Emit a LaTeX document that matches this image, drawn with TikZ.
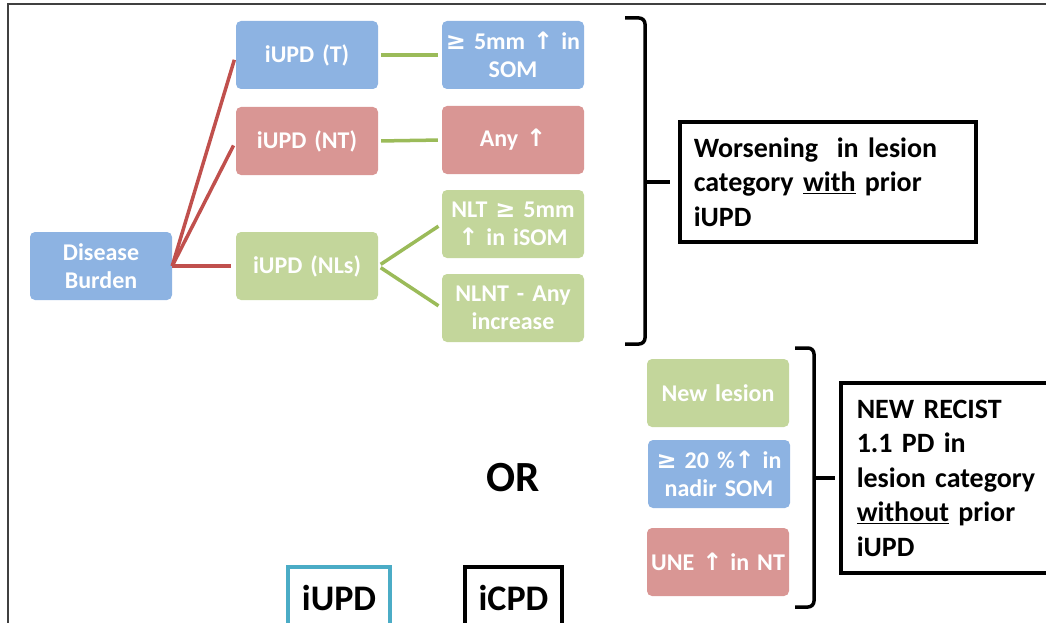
\documentclass[tikz,border=0pt]{standalone}
\usepackage{fontspec}
\setmainfont{Carlito}
\newfontfamily\symfont{DejaVu Sans}
\usetikzlibrary{positioning}
\definecolor{tgt}{HTML}{8DB3E2}
\definecolor{ntg}{HTML}{D99694}
\definecolor{nls}{HTML}{C3D69B}
\definecolor{trunk}{HTML}{C0504D}
\definecolor{twig}{HTML}{9BBB59}
\definecolor{unconf}{HTML}{4BACC6}
\newcommand{\uparr}{{\symfont\bfseries ↑}}
\newcommand{\gte}{{\symfont\bfseries ≥}}

\begin{document}
\begin{tikzpicture}[x=1pt, y=-1pt, font=\bfseries\fontsize{24}{28}\selectfont,
  cat/.style={rounded corners=5pt, text=white, minimum width=142pt, minimum height=68pt, inner sep=2pt, align=center, text width=138pt},
  trunkline/.style={trunk, line width=3.5pt, shorten >=5pt},
  twigline/.style={twig, line width=3.5pt, shorten <=3pt, shorten >=4pt},
  verdict/.style={draw, line width=3.5pt, align=left, anchor=west, inner ysep=6pt, font=\bfseries\fontsize{28}{34.5}\selectfont},
  brk/.style={line width=3.5pt, rounded corners=6pt},
  tag/.style={draw, line width=4pt, text=black, anchor=north, minimum height=62pt, font=\bfseries\fontsize{36}{40}\selectfont}]
\useasboundingbox (0,0) rectangle (1046,623);
\clip (0,0) rectangle (1046,623);
% outer frame, cut off on the right and at the bottom
\draw[black!75, line width=2pt] (8,4) rectangle (1120,700);

% disease burden tree
\node[cat, fill=tgt] (burden) at (101,266) {Disease\\Burden};
\node[cat, fill=tgt] (iupdt) at (307,55) {iUPD (T)};
\node[cat, fill=ntg] (iupdnt) at (307,141) {iUPD (NT)};
\node[cat, fill=nls] (iupdnl) at (307,266) {iUPD (NLs)};
\node[cat, fill=tgt] (somt) at (513,55) {\gte{} 5mm \uparr{} in\\SOM};
\node[cat, fill=ntg] (anynt) at (513,140) {Any \uparr};
\node[cat, fill=nls] (nlt) at (513,224) {NLT \gte{} 5mm\\\uparr{} in iSOM};
\node[cat, fill=nls] (nlnt) at (513,308) {NLNT - Any\\increase};

\draw[trunkline] (burden.east) -- (iupdt.west);
\draw[trunkline] (burden.east) -- (iupdnt.west);
\draw[trunkline] (burden.east) -- (iupdnl.west);
\draw[twigline] (iupdt.east) -- (somt.west);
\draw[twigline] (iupdnt.east) -- (anynt.west);
\draw[twigline] (iupdnl.east) -- (nlt.west);
\draw[twigline] (iupdnl.east) -- (nlnt.west);

% first bracket
\draw[brk] (625,18) -- (645,18) -- (645,344) -- (625,344);
\draw[brk] (645,182) -- (670,182);
\node[verdict, text width=268pt, inner xsep=14pt, minimum height=120pt] (worse) at (678,182)
  {Worsening \ in lesion\\category \underline{with} prior\\iUPD};

% new lesions
\node[cat, fill=nls] (newl) at (718,393) {New lesion};
\node[cat, fill=tgt] (nadir) at (719,474) {\gte{} 20 \%\uparr{} in\\nadir SOM};
\node[cat, fill=ntg] (une) at (718,562) {UNE \uparr{} in NT};

% second bracket
\draw[brk] (795,348) -- (814,348) -- (814,607) -- (795,607);
\draw[brk] (814,478) -- (835,478);
\node[verdict, text width=200pt, inner xsep=16pt, minimum height=190pt] (recist) at (839,478)
  {NEW RECIST\\1.1 PD in\\lesion category\\\underline{without} prior\\iUPD};

\node[font=\bfseries\fontsize{43}{46}\selectfont] (or) at (513,478) {OR};

\node[tag, draw=unconf, minimum width=102pt] (iupd) at (339,565) {iUPD};
\node[tag, minimum width=97pt] (icpd) at (513.5,565) {iCPD};
\end{tikzpicture}
\end{document}
